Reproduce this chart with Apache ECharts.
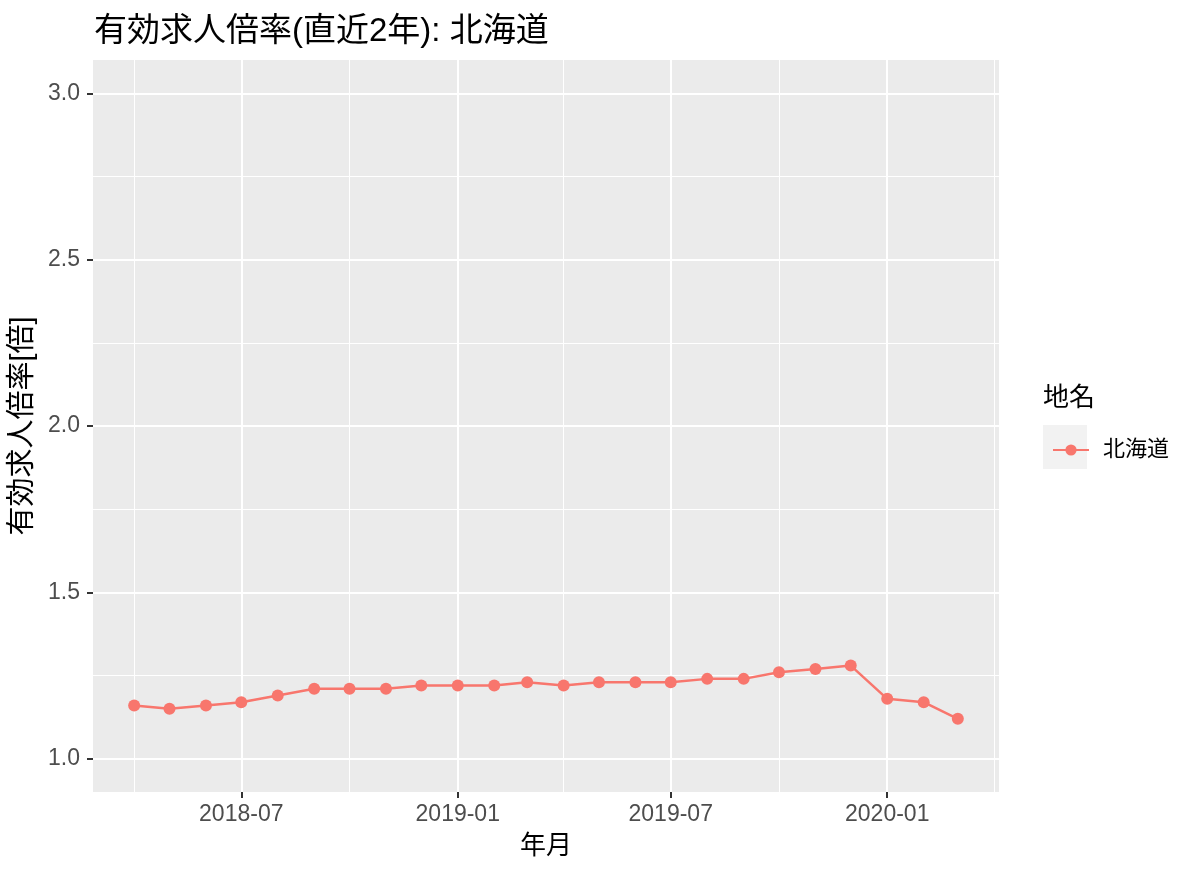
<!DOCTYPE html>
<html>
<head>
<meta charset="utf-8">
<script src="https://cdn.jsdelivr.net/npm/echarts@6/dist/echarts.min.js"></script>
<style>
html,body{margin:0;padding:0;background:#fff;}
#chart{width:1200px;height:876px;}
</style>
</head>
<body>
<div id="chart"></div>
<script>
// ---- data ----
const months = ['2018-04','2018-05','2018-06','2018-07','2018-08','2018-09','2018-10','2018-11','2018-12',
  '2019-01','2019-02','2019-03','2019-04','2019-05','2019-06','2019-07','2019-08','2019-09','2019-10',
  '2019-11','2019-12','2020-01','2020-02','2020-03'];
const hokkaido = [1.16,1.15,1.16,1.17,1.19,1.21,1.21,1.21,1.22,
  1.22,1.22,1.23,1.22,1.23,1.23,1.23,1.24,1.24,1.26,
  1.27,1.28,1.18,1.17,1.12];
const seriesName = '北海道';
const xTickLabels = ['2018-07','2019-01','2019-07','2020-01'];
const xMinorBreaks = ['2018-04','2018-10','2019-04','2019-10','2020-04'];
const yTicks = [1.0,1.5,2.0,2.5,3.0];
const yMinorBreaks = [1.25,1.75,2.25,2.75];
const yLimits = [1, 3];

// ---- helpers ----
function ts(ym) {
  const p = ym.split('-');
  return Date.UTC(+p[0], +p[1]-1, 1);
}
const first = ts(months[0]), last = ts(months[months.length-1]);
const xExp = (last - first) * 0.05;
const yExp = (yLimits[1] - yLimits[0]) * 0.05;

const font = "'Liberation Sans','Noto Sans CJK JP',sans-serif";
const data = months.map((m,i) => [ts(m), hokkaido[i]]);

const gridLines = [];
xMinorBreaks.forEach(m => gridLines.push({xAxis: ts(m), lineStyle:{width:1}}));
yMinorBreaks.forEach(v => gridLines.push({yAxis: v, lineStyle:{width:1}}));
xTickLabels.forEach(m => gridLines.push({xAxis: ts(m), lineStyle:{width:2}}));
yTicks.forEach(v => gridLines.push({yAxis: v, lineStyle:{width:2}}));

function fmtYM(v) {
  const d = new Date(v);
  return d.getUTCFullYear() + '-' + String(d.getUTCMonth()+1).padStart(2,'0');
}

const chart = echarts.init(document.getElementById('chart'), null, {renderer:'canvas'});
chart.setOption({
  animation: false,
  backgroundColor: '#ffffff',
  textStyle: {fontFamily: font},
  title: {
    text: '有効求人倍率(直近2年): 北海道',
    left: 94, top: 15, padding: 0,
    textStyle: {fontFamily: font, fontSize: 33, fontWeight: 'normal', color: '#000'}
  },
  grid: {
    left: 93, right: 201, top: 60, bottom: 84,
    outerBoundsMode: 'none', containLabel: false,
    show: true, backgroundColor: '#EBEBEB', borderWidth: 0
  },
  xAxis: {
    type: 'value',
    min: first - xExp, max: last + xExp,
    name: '年月', nameLocation: 'middle', nameGap: 42,
    nameTextStyle: {fontFamily: font, fontSize: 26, color: '#000'},
    axisLine: {show: false},
    axisTick: {show: true, length: 6, lineStyle: {color: '#333333', width: 2},
      customValues: xTickLabels.map(ts)},
    axisLabel: {
      customValues: xTickLabels.map(ts),
      fontFamily: font, fontSize: 23, color: '#4D4D4D', margin: 11,
      formatter: fmtYM
    },
    splitLine: {show: false}
  },
  yAxis: {
    type: 'value',
    min: yLimits[0] - yExp, max: yLimits[1] + yExp,
    name: '有効求人倍率[倍]', nameLocation: 'middle', nameGap: 48, nameRotate: 90,
    nameTextStyle: {fontFamily: font, fontSize: 29, color: '#000'},
    axisLine: {show: false},
    axisTick: {show: true, length: 6, lineStyle: {color: '#333333', width: 2}, customValues: yTicks},
    axisLabel: {customValues: yTicks, fontFamily: font, fontSize: 23, color: '#4D4D4D', margin: 13,
      formatter: v => v.toFixed(1)},
    splitLine: {show: false}
  },
  legend: {
    show: true,
    left: 1047, top: 434,
    itemWidth: 36, itemHeight: 14,
    data: [{name: seriesName}],
    textStyle: {fontFamily: font, fontSize: 22, color: '#000', padding: [0,0,0,9]},
    selectedMode: false
  },
  graphic: [
    {type: 'rect', left: 1043, top: 425, z: -1, shape: {width: 44, height: 44}, style: {fill: '#F2F2F2'}},
    {type: 'text', left: 1043, top: 386, style: {text: '地名', font: '26px ' + font, fill: '#000'}}
  ],
  series: [
    {
      type: 'line', name: '_grid', data: [], silent: true, z: 1,
      markLine: {silent: true, z: 1, symbol: 'none', label: {show: false},
        lineStyle: {color: '#ffffff', type: 'solid'}, animation: false, data: gridLines}
    },
    {
      type: 'line', name: seriesName, data: data, z: 10,
      showSymbol: true, symbol: 'circle', symbolSize: 12,
      lineStyle: {color: '#F8766D', width: 2.5},
      itemStyle: {color: '#F8766D'}
    }
  ]
});
</script>
</body>
</html>
